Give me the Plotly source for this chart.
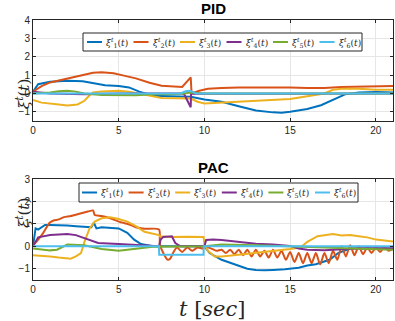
import plotly.graph_objects as go
from plotly.subplots import make_subplots

#----------- colours / names -------------------------
colors = ["#0072BD", "#D95319", "#EDB120", "#7E2F8E", "#77AC30", "#4DBEEE"]
names = ["<i>ξ</i><sup><i>t</i></sup><sub>%d</sub>(<i>t</i>)" % i for i in range(1, 7)]

#----------- PID data -------------------------
pid_t1 = [0, 0.3, 1, 2, 2.9, 3.5, 4.2, 5, 5.6, 6.2, 7, 8, 9.2, 10, 11, 12, 13, 14, 14.5, 15, 16, 16.8, 17.5, 18.2, 19, 20, 21]
pid_x1 = [0.1, 0.5, 0.64, 0.69, 0.67, 0.55, 0.45, 0.4, 0.33, 0.1, -0.12, -0.15, -0.18, -0.33, -0.45, -0.7, -0.93, -1.03, -1.05, -1.0, -0.85, -0.64, -0.36, -0.05, 0.05, 0.08, 0.05]

pid_t2 = [0, 0.5, 1, 2, 2.8, 3.5, 4, 4.7, 5.3, 6, 6.8, 7.5, 8.7, 9.2, 9.25, 9.7, 10.2, 11, 12, 13, 14, 15, 16, 17, 18, 19, 20, 21]
pid_x2 = [0.1, 0.4, 0.6, 0.8, 0.95, 1.13, 1.16, 1.1, 0.97, 0.82, 0.58, 0.42, 0.35, 0.88, 0.0, 0.15, 0.25, 0.3, 0.32, 0.33, 0.35, 0.33, 0.3, 0.3, 0.35, 0.38, 0.4, 0.4]

pid_t3 = [0, 0.5, 1.5, 2, 2.6, 3, 3.3, 3.5, 4, 5, 5.6, 6.2, 7, 7.5, 9.2, 9.6, 10, 11, 12, 13, 14, 15, 16, 17, 17.5, 18, 19, 20, 21]
pid_x3 = [-0.35, -0.5, -0.6, -0.65, -0.6, -0.4, -0.1, 0.05, 0.1, 0.15, 0.1, 0.0, -0.15, -0.25, -0.28, -0.45, -0.55, -0.5, -0.45, -0.4, -0.35, -0.3, -0.15, 0.0, 0.2, 0.25, 0.25, 0.2, 0.2]

pid_t4 = [0, 1, 3, 5, 8.8, 9.2, 9.22, 10, 15, 21]
pid_x4 = [0.1, 0.0, -0.05, 0.0, 0.0, -0.75, 0.0, -0.02, -0.02, 0.0]

pid_t5 = [0, 1, 1.5, 2, 2.5, 3, 4, 5, 6, 7, 8, 8.8, 9.2, 10, 15, 21]
pid_x5 = [0.0, 0.05, 0.12, 0.15, 0.1, 0.0, -0.08, -0.1, -0.1, -0.05, -0.05, 0.0, 0.05, 0.0, 0.0, 0.0]

pid_t6 = [0, 8.6, 8.9, 9.1, 9.3, 9.5, 21]
pid_x6 = [0.0, 0.0, 0.12, 0.15, 0.1, 0.0, 0.0]

#----------- PAC data -------------------------
pac_t1 = [0, 0.15, 0.3, 0.5, 0.7, 1, 1.5, 2, 2.5, 3, 3.4, 3.55, 3.7, 4, 4.5, 5, 5.5, 5.9, 6.3, 7, 10, 10.3, 11, 11.7, 12.5, 13, 13.5, 14, 14.7, 15.5, 16, 16.5, 17.3, 17.8, 18.5, 21]
pac_x1 = [0.0, 0.8, 0.75, 0.85, 0.95, 0.95, 0.95, 0.93, 0.9, 0.88, 0.85, 1.05, 0.8, 0.85, 0.82, 0.8, 0.6, 0.3, 0.1, 0.0, 0.0, -0.3, -0.6, -0.8, -1.0, -1.05, -1.07, -1.05, -1.02, -0.95, -0.85, -0.8, -0.6, -0.3, -0.1, -0.1]

pac_t2 = [0, 0.3, 0.6, 0.97, 1.2, 1.5, 1.8, 2.2, 2.7, 3.2, 3.5, 3.6, 4, 4.5, 5, 5.7, 6, 6.5, 7.35, 7.4, 7.6, 7.85, 8.0, 8.2, 8.4, 8.7, 9.0, 9.3, 9.6, 9.9, 10.0, 10.4, 10.7,
          11.0, 11.25, 11.5, 11.75, 12.0, 12.25, 12.5, 12.75, 13.0, 13.25, 13.5, 13.75, 14.0, 14.25, 14.5, 14.75, 15.0, 15.25, 15.5, 15.75, 16.0, 16.25,
          16.5, 16.75, 17.0, 17.25, 17.5, 17.75, 18.0, 18.25, 18.5, 18.75, 19.0, 19.25, 19.5, 19.75, 20.0, 20.25, 20.5, 20.75, 21.0]
pac_x2 = [0.05, 0.3, 0.6, 1.05, 1.15, 1.2, 1.3, 1.35, 1.45, 1.55, 1.6, 1.4, 1.35, 1.25, 1.1, 0.95, 0.85, 0.78, 0.75, 0.1, -0.3, -0.6, -0.55, -0.25, -0.05, -0.25, -0.05, -0.2, -0.05, -0.1, 0.0, -0.1, -0.2,
          -0.15, -0.3, -0.15, -0.35, -0.15, -0.4, -0.15, -0.45, -0.15, -0.45, -0.2, -0.5, -0.15, -0.5, -0.2, -0.6, -0.25, -0.7, -0.3, -0.75, -0.3, -0.75,
          -0.3, -0.8, -0.3, -0.75, -0.2, -0.6, 0.0, -0.45, 0.05, -0.4, 0.0, -0.35, -0.05, -0.3, -0.05, -0.25, -0.05, -0.2, -0.1]

pac_t3 = [0, 0.5, 1, 1.5, 2.2, 2.5, 2.8, 3.0, 3.3, 3.6, 4, 4.5, 5, 5.5, 6, 6.5, 7.2, 7.35, 7.4, 8, 9, 9.95, 10.0, 10.2, 10.6, 11, 12, 13, 14, 15, 15.6, 16, 16.6, 17, 17.5, 18, 18.5, 19, 19.5, 20, 20.5, 21]
pac_x3 = [-0.4, -0.42, -0.45, -0.5, -0.55, -0.45, -0.3, 0.2, 0.8, 1.1, 1.25, 1.3, 1.22, 1.1, 0.9, 0.65, 0.55, 0.5, 0.45, 0.42, 0.43, 0.42, 0.1, -0.2, -0.45, -0.45, -0.38, -0.3, -0.22, -0.12, -0.05, 0.2, 0.45, 0.5, 0.55, 0.48, 0.5, 0.45, 0.4, 0.3, 0.25, 0.22]

pac_t4 = [0, 0.3, 1, 2, 2.5, 3.2, 3.8, 5, 6.5, 7.35, 7.45, 7.6, 8.1, 8.3, 8.6, 10.0, 10.1, 10.5, 11, 12, 13, 14, 15, 15.5, 16, 17, 18, 19, 21]
pac_x4 = [0.0, 0.4, 0.5, 0.55, 0.5, 0.3, 0.15, 0.1, 0.05, 0.0, 0.3, 0.42, 0.45, 0.15, 0.0, 0.0, 0.28, 0.3, 0.28, 0.2, 0.12, 0.08, 0.02, -0.1, -0.15, -0.18, -0.12, -0.08, -0.08]

pac_t5 = [0, 1, 1.4, 2, 3, 4, 5, 6, 7, 10, 11, 13, 15, 16, 17, 19, 21]
pac_x5 = [-0.1, -0.18, -0.15, 0.08, 0.05, -0.12, -0.2, -0.12, -0.02, 0.0, 0.08, 0.05, 0.0, -0.05, -0.08, -0.1, -0.15]

pac_t6 = [0, 7.35, 7.36, 9.95, 9.96, 21]
pac_x6 = [0, 0, -0.37, -0.37, 0, 0]

pid = [(pid_t1, pid_x1), (pid_t2, pid_x2), (pid_t3, pid_x3), (pid_t4, pid_x4), (pid_t5, pid_x5), (pid_t6, pid_x6)]
pac = [(pac_t1, pac_x1), (pac_t2, pac_x2), (pac_t3, pac_x3), (pac_t4, pac_x4), (pac_t5, pac_x5), (pac_t6, pac_x6)]

#----------- figure -------------------------
W, H = 395, 321
ML, MR, MT, MB = 33, 2, 20, 41
fig = make_subplots(rows=2, cols=1)

for i, (t, x) in enumerate(pid):
    fig.add_trace(go.Scatter(x=t, y=x, mode="lines", name=names[i], showlegend=False,
                             line=dict(color=colors[i], width=2)), row=1, col=1)
for i, (t, x) in enumerate(pac):
    # the oscillating ξ2 looks smooth in the original
    shape = "spline" if i == 1 else "linear"
    fig.add_trace(go.Scatter(x=t, y=x, mode="lines", name=names[i], showlegend=False,
                             line=dict(color=colors[i], width=2, shape=shape, smoothing=0.7)), row=2, col=1)

axis_style = dict(showline=True, mirror="ticks", linecolor="#262626", linewidth=1,
                  showgrid=True, gridcolor="#e6e6e6", zeroline=False, automargin=False,
                  ticks="inside", ticklen=3, tickcolor="#262626",
                  tickfont=dict(family="Liberation Sans, Arial", size=10, color="#262626"))
fig.update_xaxes(range=[0, 21], tickvals=[0, 5, 10, 15, 20], **axis_style)
fig.update_yaxes(**axis_style)
fig.update_yaxes(range=[-1.5, 4], tickvals=[-1, 0, 1, 2, 3, 4], row=1, col=1)
fig.update_yaxes(range=[-1.5, 3], tickvals=[-1, 0, 1, 2, 3], row=2, col=1)

pw, ph = W - ML - MR, H - MT - MB
def px(x):
    return (x - ML) / pw
def py(y):
    return (H - MB - y) / ph

fig.update_layout(
    width=W, height=H,
    margin=dict(l=ML, r=MR, t=MT, b=MB),
    paper_bgcolor="white", plot_bgcolor="white",
    showlegend=False,
    yaxis_domain=[py(121), py(20)], yaxis2_domain=[py(280), py(179)],
)

# legend boxes drawn by hand (MATLAB style, one row)
def legend_box(x0, x1, y0, y1, line_x, pitch):
    fig.add_shape(type="rect", xref="paper", yref="paper", x0=px(x0), x1=px(x1), y0=py(y1), y1=py(y0),
                  line=dict(color="#262626", width=1), fillcolor="white", layer="above")
    yc = (y0 + y1) / 2
    for i in range(6):
        lx = line_x + i * pitch
        fig.add_shape(type="line", xref="paper", yref="paper", x0=px(lx), x1=px(lx + 15), y0=py(yc), y1=py(yc),
                      line=dict(color=colors[i], width=2), layer="above")
        fig.add_annotation(text=names[i], xref="paper", yref="paper", x=px(lx + 17), y=py(yc),
                           xanchor="left", yanchor="middle", showarrow=False,
                           font=dict(family="DejaVu Serif", size=9, color="#262626"))

legend_box(83, 362, 33, 51, 87, 46.5)
legend_box(79, 358, 183, 202, 82, 46.6)

title_font = dict(family="Liberation Sans, Arial", size=15, color="black")
fig.add_annotation(text="<b>PID</b>", xref="paper", yref="paper", x=px(213), y=py(9),
                   yanchor="middle", showarrow=False, font=title_font)
fig.add_annotation(text="<b>PAC</b>", xref="paper", yref="paper", x=px(213), y=py(167),
                   yanchor="middle", showarrow=False, font=title_font)

lab_font = dict(family="DejaVu Serif", size=15, color="#262626")
fig.add_annotation(text="<i>ξ</i><sup><i>t</i></sup>(<i>t</i>)", xref="paper", yref="paper", x=px(11), y=py(77),
                   textangle=-90, showarrow=False, font=lab_font)
fig.add_annotation(text="<i>ξ</i><sup><i>t</i></sup>(<i>t</i>)", xref="paper", yref="paper", x=px(11), y=py(230),
                   textangle=-90, showarrow=False, font=lab_font)
fig.add_annotation(text="<i>t</i> [<i>sec</i>]", xref="paper", yref="paper", x=px(212), y=py(309),
                   yanchor="middle", showarrow=False,
                   font=dict(family="DejaVu Serif", size=21, color="#262626"))

fig.write_html("out.html", config={"displayModeBar": False},
               post_script="document.body.style.margin='0px';")
